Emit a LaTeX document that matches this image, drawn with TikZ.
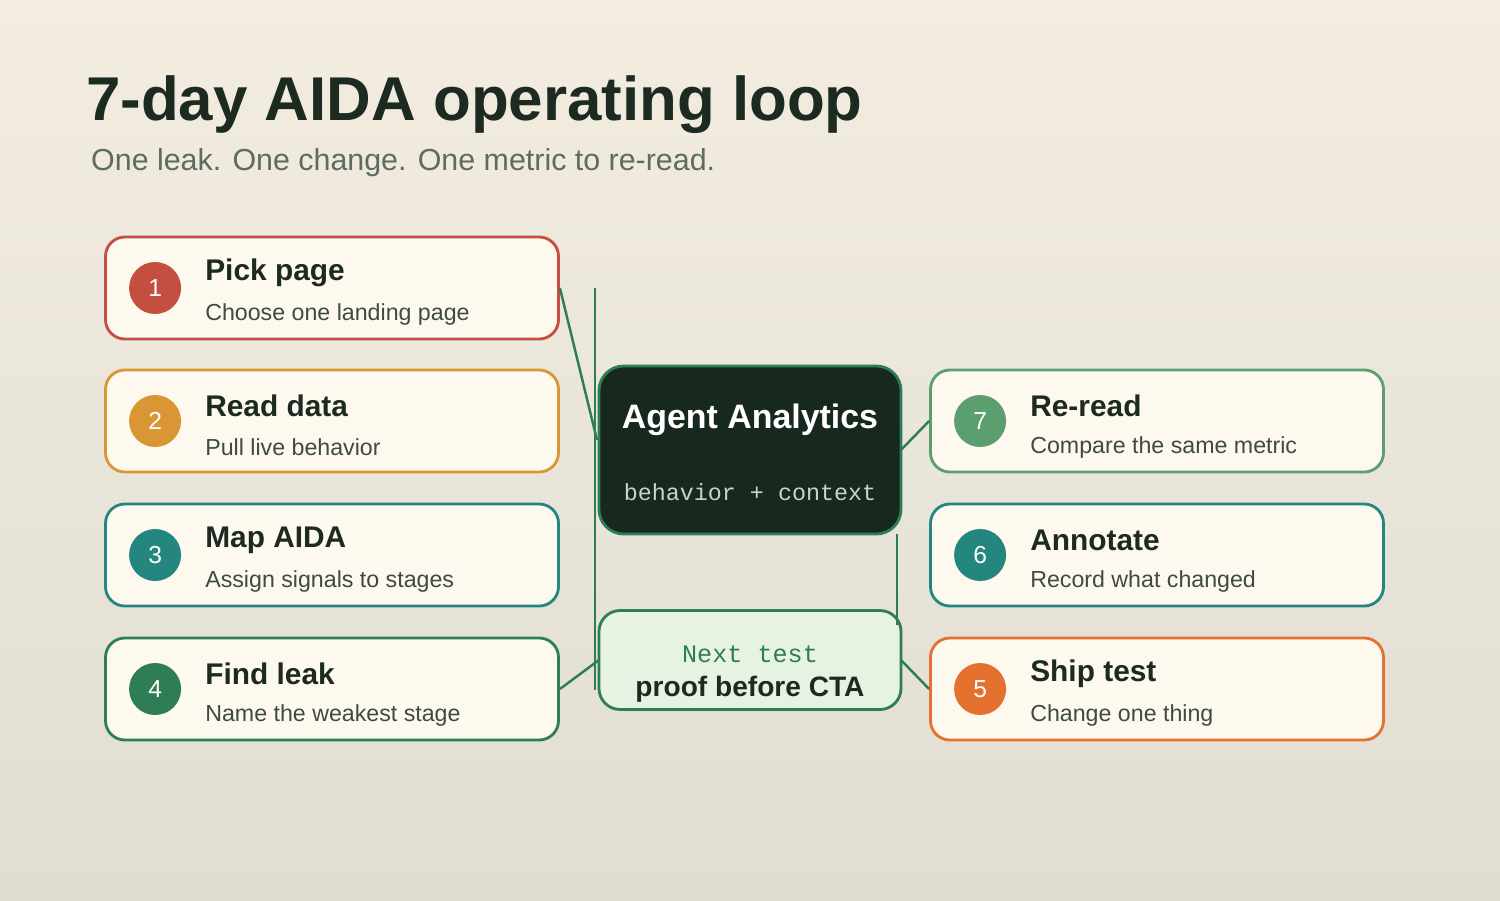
\documentclass[tikz,border=0pt]{standalone}
\usepackage{fontspec}
\setmainfont{Liberation Sans}
\setmonofont{Liberation Mono}
\usetikzlibrary{positioning}
\definecolor{bgtop}{HTML}{F3EDE0}
\definecolor{bgbot}{HTML}{E1DDD3}
\definecolor{ink}{HTML}{1C2A22}
\definecolor{subink}{HTML}{5E6B60}
\definecolor{cardfill}{HTML}{FDF9EF}
\definecolor{cred}{HTML}{C44E40}
\definecolor{corange}{HTML}{DA9634}
\definecolor{cteal}{HTML}{23877F}
\definecolor{cgreen}{HTML}{2E7D55}
\definecolor{clgreen}{HTML}{5B9E70}
\definecolor{cdeep}{HTML}{E4712E}
\definecolor{hubfill}{HTML}{17291F}
\definecolor{nextfill}{HTML}{E6F3E3}
\tikzset{
  card/.style={draw=#1, line width=1.6pt, fill=cardfill, rounded corners=11pt,
    minimum width=453*0.02cm, minimum height=102*0.02cm, inner sep=0pt},
  dot/.style={circle, fill=#1, minimum size=52*0.02cm, inner sep=0pt,
    text=white, font=\fontsize{14}{14}\selectfont},
  head/.style={anchor=west, text=ink, font=\bfseries\fontsize{17}{17}\selectfont},
  sub/.style={anchor=west, text=ink!85, font=\fontsize{13.2}{13.2}\selectfont},
  wire/.style={cgreen, line width=1.4pt}
}
\begin{document}
\begin{tikzpicture}[x=0.02cm, y=-0.02cm]
\shade[top color=bgtop, bottom color=bgbot] (0,0) rectangle (1500,900);
\useasboundingbox (0,0) rectangle (1500,900);
% heading
\node[anchor=base west, text=ink, font=\bfseries\fontsize{35.2}{35.2}\selectfont] (title) at (80,120) {7-day AIDA operating loop};
\node[anchor=base west, text=subink, font=\fontsize{17.3}{17.3}\selectfont] (subtitle) at (85,170) {One leak. One change. One metric to re-read.};
% cards
\foreach \n/\x/\y/\c/\h/\s in {
  1/332/288/cred/Pick page/Choose one landing page,
  2/332/421/corange/Read data/Pull live behavior,
  3/332/555/cteal/Map AIDA/Assign signals to stages,
  4/332/689/cgreen/Find leak/Name the weakest stage,
  7/1157/421/clgreen/Re-read/Compare the same metric,
  6/1157/555/cteal/Annotate/Record what changed,
  5/1157/689/cdeep/Ship test/Change one thing}{
  \node[card=\c] (card\n) at (\x,\y) {};
  \node[dot=\c] (dot\n) at ([xshift=51*0.02cm]card\n.west) {\raisebox{-1.2ex}{\n}};
  \node[head] (head\n) at ([xshift=95*0.02cm, yshift=15*0.02cm]card\n.west) {\h};
  \node[sub] (sub\n) at ([xshift=95*0.02cm, yshift=-26*0.02cm]card\n.west) {\s};
}
% hub
\node[draw=cgreen, line width=1.6pt, fill=hubfill, rounded corners=14pt,
  minimum width=302*0.02cm, minimum height=168*0.02cm] (hub) at (750,450) {};
\node[text=white, font=\bfseries\fontsize{19.3}{19.3}\selectfont] (hubtitle) at (750,420) {Agent Analytics};
\node[text=white!78!hubfill, font=\ttfamily\fontsize{13.3}{13.3}\selectfont] (hubsub) at (750,492) {behavior + context};
\node[draw=cgreen, line width=1.6pt, fill=nextfill, rounded corners=12pt,
  minimum width=302*0.02cm, minimum height=99*0.02cm] (next) at (750,660) {};
\node[text=cgreen, font=\ttfamily\fontsize{14.3}{14.3}\selectfont] (nextsub) at (750,654) {Next test};
\node[text=ink, font=\bfseries\fontsize{16}{16}\selectfont] (nexttitle) at (750,689) {proof before CTA};
% connectors
\coordinate (spinetop) at (595,288);
\coordinate (spinebot) at (595,690);
\coordinate (rtop) at (897,534);
\coordinate (rbot) at (897,625);
\coordinate (hubl) at (597,440);
\coordinate (hubr) at (901,450);
\coordinate (nextl) at (599,660);
\coordinate (nextr) at (901,660);
\draw[wire] (spinetop) -- (spinebot);
\draw[wire] (rtop) -- (rbot);
\draw[wire] (card1.east) -- (hubl);
\draw[wire] (card4.east) -- (nextl);
\draw[wire] (card7.west) -- (hubr);
\draw[wire] (card5.west) -- (nextr);
\end{tikzpicture}
\end{document}
